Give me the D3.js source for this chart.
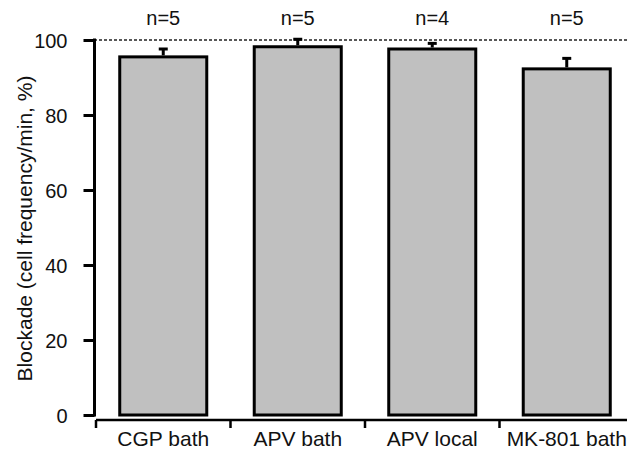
<!DOCTYPE html>
<html>
<head>
<meta charset="utf-8">
<script src="https://cdn.jsdelivr.net/npm/d3@7"></script>
<style>
  html, body { margin: 0; padding: 0; background: #fff; }
  svg { display: block; font-family: "Liberation Sans", Arial, sans-serif; }
</style>
</head>
<body>
<svg id="chart" width="627" height="451"></svg>
<script>
const categories = ["CGP bath", "APV bath", "APV local", "MK-801 bath"];
const means = [95.5, 98.2, 97.6, 92.3];
const sems = [2.1, 2.0, 1.5, 2.8];
const nLabels = ["n=5", "n=5", "n=4", "n=5"];
const yTicks = [0, 20, 40, 60, 80, 100];
const yLabel = "Blockade (cell frequency/min, %)";

const svg = d3.select("#chart");

const y = d3.scaleLinear().domain([0, 100]).range([415, 40]);
const x = d3.scaleBand().domain(categories).range([96, 634]).paddingInner(0.353).paddingOuter(0.1765);
const step = x.step();
const gapHalf = step * 0.353 / 2;

// dotted reference line at 100
svg.append("line")
  .attr("x1", 94).attr("x2", 627)
  .attr("y1", y(100)).attr("y2", y(100))
  .attr("stroke", "#222").attr("stroke-width", 1.5)
  .attr("stroke-dasharray", "3,2");

// bars
svg.selectAll("rect.bar").data(categories).enter().append("rect")
  .attr("class", "bar")
  .attr("x", d => x(d))
  .attr("y", (d, i) => y(means[i]))
  .attr("width", x.bandwidth())
  .attr("height", (d, i) => y(0) - y(means[i]))
  .attr("fill", "#c0c0c0")
  .attr("stroke", "#000")
  .attr("stroke-width", 3);

// error bars (upward only)
const eb = svg.selectAll("g.err").data(categories).enter().append("g").attr("class", "err");
eb.append("line")
  .attr("x1", d => x(d) + x.bandwidth() / 2)
  .attr("x2", d => x(d) + x.bandwidth() / 2)
  .attr("y1", (d, i) => y(means[i]) - 1.5)
  .attr("y2", (d, i) => y(means[i] + sems[i]))
  .attr("stroke", "#000").attr("stroke-width", 3);
eb.append("line")
  .attr("x1", d => x(d) + x.bandwidth() / 2 - 4.5)
  .attr("x2", d => x(d) + x.bandwidth() / 2 + 4.5)
  .attr("y1", (d, i) => y(means[i] + sems[i]))
  .attr("y2", (d, i) => y(means[i] + sems[i]))
  .attr("stroke", "#000").attr("stroke-width", 3);

// n labels
svg.selectAll("text.nlab").data(categories).enter().append("text")
  .attr("class", "nlab")
  .attr("x", d => x(d) + x.bandwidth() / 2)
  .attr("y", 25)
  .attr("text-anchor", "middle")
  .attr("font-size", 20)
  .attr("fill", "#111")
  .text((d, i) => nLabels[i]);

// y axis
const yAxis = svg.append("g")
  .attr("transform", "translate(94.5,0)")
  .call(d3.axisLeft(y).tickValues(yTicks).tickSize(11).tickSizeOuter(0).tickPadding(16));
yAxis.select(".domain").attr("stroke", "#000").attr("stroke-width", 3)
  .attr("d", `M0,${y(100) - 1.5}V${y(0) + 1.5}`);
yAxis.selectAll(".tick line").attr("stroke", "#000").attr("stroke-width", 3);
yAxis.selectAll(".tick text").attr("font-size", 20).attr("fill", "#111")
  .attr("font-family", "Liberation Sans, Arial, sans-serif").attr("dy", "0.35em");

// x axis
const xAxis = svg.append("g")
  .attr("transform", "translate(0,420)")
  .call(d3.axisBottom(x).tickSize(0).tickSizeOuter(0).tickPadding(11));
xAxis.select(".domain").attr("stroke", "#000").attr("stroke-width", 2.5)
  .attr("d", "M96,0H627");
xAxis.selectAll(".tick text").attr("font-size", 21).attr("fill", "#111")
  .attr("font-family", "Liberation Sans, Arial, sans-serif");
// boundary ticks
xAxis.selectAll("line.bnd").data(categories).enter().append("line")
  .attr("class", "bnd")
  .attr("x1", d => x(d) - gapHalf).attr("x2", d => x(d) - gapHalf)
  .attr("y1", 0).attr("y2", 8)
  .attr("stroke", "#000").attr("stroke-width", 2.5);

// y label
svg.append("text")
  .attr("transform", `translate(32,${(y(0) + y(100)) / 2 + 1}) rotate(-90)`)
  .attr("text-anchor", "middle")
  .attr("font-size", 21)
  .attr("fill", "#111")
  .text(yLabel);
</script>
</body>
</html>
